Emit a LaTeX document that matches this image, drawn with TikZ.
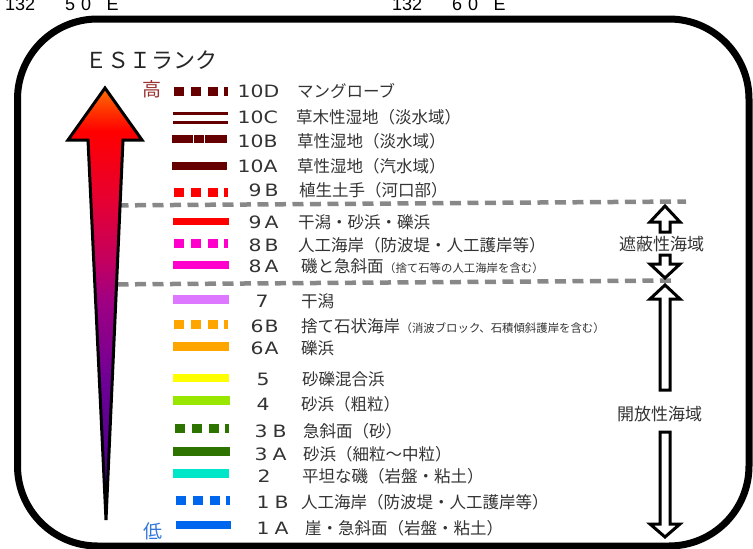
\documentclass[tikz,border=0pt]{standalone}
\usepackage{fontspec}
\setmainfont{Noto Sans CJK JP}
\newfontfamily\codefont[FakeStretch=1.2]{DejaVu Sans}
\newfontfamily\coordfont{Liberation Sans}
\definecolor{txt}{RGB}{51,51,51}
\definecolor{c10}{RGB}{102,0,0}
\definecolor{c9}{RGB}{255,0,0}
\definecolor{c8}{RGB}{255,0,204}
\definecolor{c7}{RGB}{221,119,255}
\definecolor{c6}{RGB}{255,165,0}
\definecolor{c5}{RGB}{255,255,0}
\definecolor{c4}{RGB}{153,230,0}
\definecolor{c3}{RGB}{45,115,0}
\definecolor{c2}{RGB}{0,230,200}
\definecolor{c1}{RGB}{0,102,238}
\definecolor{sepgray}{RGB}{136,136,136}
\definecolor{hicol}{RGB}{153,51,51}
\definecolor{locol}{RGB}{51,119,221}
\definecolor{gA}{RGB}{60,0,130}
\definecolor{gB}{RGB}{110,0,150}
\definecolor{gC}{RGB}{160,0,130}
\definecolor{gD}{RGB}{195,0,95}
\definecolor{gE}{RGB}{230,0,50}
\definecolor{gF}{RGB}{255,0,0}
\definecolor{gG}{RGB}{255,110,0}
\pgfdeclareverticalshading{esishade}{100bp}{color(0bp)=(gA); color(25bp)=(gA); color(41bp)=(gB); color(50.5bp)=(gC); color(55bp)=(gD); color(62bp)=(gE); color(70bp)=(gF); color(75bp)=(gG); color(100bp)=(gG)}
\tikzset{
  lab/.style={anchor=base west, inner sep=0pt, text=txt, font=\fontsize{16.5}{18}\selectfont},
  small/.style={anchor=base west, inner sep=0pt, text=txt, font=\fontsize{11.4}{13}\selectfont},
  code/.style={anchor=base west, inner sep=0pt, text=txt, font=\codefont\fontsize{17}{19}\selectfont},
  coordlab/.style={anchor=base west, inner sep=0pt, text=black, font=\coordfont\fontsize{18}{20}\selectfont},
  sea/.style={anchor=base west, inner sep=0pt, text=txt, font=\fontsize{17}{19}\selectfont},
  solidln/.style={line width=8.5pt},
  dashln/.style={line width=9pt, dash pattern=on 10pt off 6.8pt},
  sep/.style={draw=sepgray, line width=4.5pt, dash pattern=on 11pt off 6.5pt},
  hollow/.style={draw=black, fill=white, line width=3pt, line join=miter},
  bigarrow/.style={draw=black, line width=3pt, shade, shading=esishade, line join=miter},
  frame/.style={draw=black, line width=7pt, rounded corners=80pt},
}
\begin{document}
\begin{tikzpicture}[x=1pt,y=-1pt]
\useasboundingbox (0,0) rectangle (753,549);
% longitudes (cut at the top)
\node[coordlab] (lon1) at (5,10) {132\hspace{30pt}5\hspace{6pt}0\hspace{15.5pt}E};
\node[coordlab] (lon2) at (392,10) {132\hspace{30pt}6\hspace{6pt}0\hspace{15.5pt}E};
% frame
\draw[frame] (17.5,19) rectangle (749,546);
% separators
\coordinate (s1a) at (100,205.5); \coordinate (s1b) at (686,201.5);
\coordinate (s2a) at (100,284.5); \coordinate (s2b) at (676,280.5);
\draw[sep] (s1a) -- (s1b);
\draw[sep] (s2a) -- (s2b);
% big gradient arrow
\draw[bigarrow] (105,88) -- (142,140) -- (123,140) -- (106,520) -- (88,140) -- (68,140) -- cycle;
% title and high / low
\node[anchor=base west, inner sep=0pt, text=black!85, font=\fontsize{22}{24}\selectfont] (esi) at (85,68) {ＥＳＩランク};
\node[anchor=base west, inner sep=0pt, text=hicol, font=\fontsize{19}{21}\selectfont] (hi) at (142,96.7) {高};
\node[anchor=base west, inner sep=0pt, text=locol, font=\fontsize{19}{21}\selectfont] (lo) at (143,538.7) {低};
% legend lines
\draw[dashln, c10] (174,91.5) -- (228,91.5);
\draw[c10, line width=3pt] (173,113.5) -- (228,113.5);
\draw[c10, line width=3pt] (173,122.5) -- (228,122.5);
\draw[solidln, c10] (172,139) -- (227,139);
\draw[white, line width=1pt] (193.5,134.5) -- (193.5,143.5);
\draw[white, line width=1pt] (204.5,134.5) -- (204.5,143.5);
\draw[solidln, c10] (172,166) -- (227,166);
\draw[dashln, c9] (174,192) -- (228,192);
\draw[c9, line width=7.5pt] (173,221.5) -- (228.5,221.5);
\draw[dashln, c8] (174,243.5) -- (228,243.5);
\draw[solidln, c8] (173,265) -- (229,265);
\draw[solidln, c7] (173,299.5) -- (229,299.5);
\draw[dashln, c6] (174,324.5) -- (228,324.5);
\draw[solidln, c6] (173,346.5) -- (229,346.5);
\draw[solidln, c5] (173,378) -- (229,378);
\draw[solidln, c4] (173,400.5) -- (230,400.5);
\draw[dashln, c3] (175,428.5) -- (229,428.5);
\draw[solidln, c3] (173,451.5) -- (230,451.5);
\draw[solidln, c2] (173,473.5) -- (229,473.5);
\draw[dashln, c1] (176,500.5) -- (229.5,500.5);
\draw[solidln, c1] (176,525) -- (231,525);
% codes
\node[code] (k10D) at (237.5,97.7) {10D};
\node[code] (k10C) at (237.5,123.2) {10C};
\node[code] (k10B) at (237.5,147.7) {10B};
\node[code] (k10A) at (237.5,172.7) {10A};
\node[code] (k9B) at (248.5,196.7) {9\hspace{3pt}B};
\node[code] (k9A) at (248.5,228.2) {9\hspace{3pt}A};
\node[code] (k8B) at (248.5,251.2) {8\hspace{3pt}B};
\node[code] (k8A) at (248.5,272.7) {8\hspace{3pt}A};
\node[code] (k7) at (255.5,307.7) {7};
\node[code] (k6B) at (250.5,332.7) {6\hspace{1pt}B};
\node[code] (k6A) at (250.5,354.7) {6\hspace{1pt}A};
\node[code] (k5) at (256.5,385.7) {5};
\node[code] (k4) at (256.5,410.2) {4};
\node[code] (k3B) at (254.5,437.2) {3\hspace{5pt}B};
\node[code] (k3A) at (254.5,460.7) {3\hspace{5pt}A};
\node[code] (k2) at (257.5,482.7) {2};
\node[code] (k1B) at (256.5,508.7) {1\hspace{5pt}B};
\node[code] (k1A) at (256.5,534.7) {1\hspace{5pt}A};
% labels
\node[lab] (t10D) at (297,97.8) {マングローブ};
\node[lab] (t10C) at (296,123.3) {草木性湿地（淡水域）};
\node[lab] (t10B) at (297,147.8) {草性湿地（淡水域）};
\node[lab] (t10A) at (297,172.8) {草性湿地（汽水域）};
\node[lab] (t9B) at (299,196.8) {植生土手（河口部）};
\node[lab] (t9A) at (298,228.3) {干潟・砂浜・礫浜};
\node[lab] (t8B) at (298,251.3) {人工海岸（防波堤・人工護岸等）};
\node[lab] (t8A) at (301,272.8) {磯と急斜面};
\node[small] (t8Ax) at (t8A.base east) {（捨て石等の人工海岸を含む）};
\node[lab] (t7) at (301,307.8) {干潟};
\node[lab] (t6B) at (301,332.8) {捨て石状海岸};
\node[small] (t6Bx) at (t6B.base east) {（消波ブロック、石積傾斜護岸を含む）};
\node[lab] (t6A) at (301,354.8) {礫浜};
\node[lab] (t5) at (302,385.8) {砂礫混合浜};
\node[lab] (t4) at (301,410.3) {砂浜（粗粒）};
\node[lab] (t3B) at (303,437.3) {急斜面（砂）};
\node[lab] (t3A) at (303,460.8) {砂浜（細粒～中粒）};
\node[lab] (t2) at (302,482.8) {平坦な磯（岩盤・粘土）};
\node[lab] (t1B) at (301,508.8) {人工海岸（防波堤・人工護岸等）};
\node[lab] (t1A) at (305,534.8) {崖・急斜面（岩盤・粘土）};
% sea-area arrows and labels
\draw[hollow] (665,206) -- (680,222) -- (670,222) -- (670,232) -- (660,232) -- (660,222) -- (650,222) -- cycle;
\draw[hollow] (665,278) -- (680,264) -- (670,264) -- (670,255) -- (660,255) -- (660,264) -- (650,264) -- cycle;
\node[sea] (shel) at (619,250.8) {遮蔽性海域};
\draw[hollow] (665,285) -- (680,299) -- (670,299) -- (670,390) -- (660,390) -- (660,299) -- (650,299) -- cycle;
\draw[hollow] (665,537) -- (680,524) -- (670,524) -- (670,432) -- (660,432) -- (660,524) -- (650,524) -- cycle;
\node[sea] (open) at (617,420) {開放性海域};
\end{tikzpicture}
\end{document}
